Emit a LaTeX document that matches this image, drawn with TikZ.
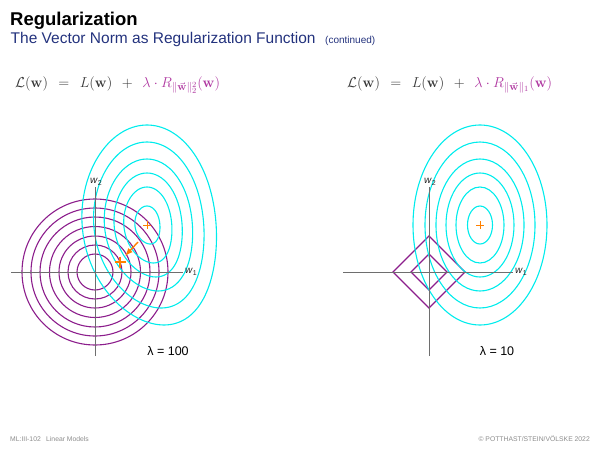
\documentclass[tikz,border=0pt]{standalone}
\usepackage[no-math]{fontspec}
\setmainfont{Liberation Sans}
\usetikzlibrary{arrows.meta}
\definecolor{cy}{RGB}{0,236,236}
\definecolor{pu}{RGB}{140,30,140}
\definecolor{orng}{RGB}{255,128,0}
\definecolor{navy}{RGB}{35,50,125}
\definecolor{fmag}{RGB}{175,55,160}
\definecolor{fgray}{RGB}{55,55,55}
\definecolor{axgray}{RGB}{110,110,110}
\begin{document}
\begin{tikzpicture}[x=1pt,y=-1pt,
  ax/.style={draw=axgray, line width=0.9pt},
  circ/.style={draw=pu, line width=1.1pt},
  ell/.style={draw=cy, line width=1.1pt},
  thinplus/.style={draw=orng, line width=0.8pt},
  boldplus/.style={draw=orng, line width=2pt},
  axlab/.style={inner sep=0pt, font=\fontsize{10}{12}\selectfont, text=black!85},
  lamlab/.style={inner sep=0pt, font=\fontsize{12.5}{14}\selectfont, text=black},
  formula/.style={inner sep=0pt, anchor=base west, font=\fontsize{15.8}{18}\selectfont, text=fgray},
  foot/.style={inner sep=0pt, anchor=base west, font=\fontsize{6.8}{8}\selectfont, text=black!45}]
\useasboundingbox (0,0) rectangle (600,450);

% header
\node[inner sep=0pt, anchor=base west, font=\fontsize{18.5}{20}\selectfont\bfseries] (title) at (10,25) {Regularization};
\node[inner sep=0pt, anchor=base west, font=\fontsize{15.5}{17}\selectfont, text=navy] (sub) at (10.5,43.5) {The Vector Norm as Regularization Function};
\node[inner sep=0pt, anchor=base west, font=\fontsize{10}{12}\selectfont, text=navy] (cont) at (325,43.5) {(continued)};

% formulas
\node[formula] (f1) at (15,87) {$\mathcal{L}(\mathbf{w})\;\,=\;\,L(\mathbf{w})\;\,+\;\,\textcolor{fmag}{\lambda\cdot R_{\|\vec{\mathbf{w}}\|_2^2}(\mathbf{w})}$};
\node[formula] (f2) at (347,87) {$\mathcal{L}(\mathbf{w})\;\,=\;\,L(\mathbf{w})\;\,+\;\,\textcolor{fmag}{\lambda\cdot R_{\|\vec{\mathbf{w}}\|_1}(\mathbf{w})}$};

% ---------- left panel ----------
\coordinate (o1) at (95,272);
\coordinate (m1) at (147,225);
\foreach \r in {18,27,36,45.5,55,64,73}
  \draw[circ] (o1) circle[radius=\r];
\foreach \a/\b in {67/100,55/83,44/66,34/52,24/38,12.5/19}
  \draw[ell] plot[smooth cycle, domain=0:355, samples=72, variable=\t]
    ({147+\a*cos(\t)+0.17*\b*((1+sin(\t))/2)^3},{225+\b*sin(\t)});
\coordinate (h1l) at (11,272);
\coordinate (h1r) at (183,272);
\coordinate (v1t) at (95,187);
\coordinate (v1b) at (95,356);
\draw[ax] (h1l) -- (h1r);
\draw[ax] (v1b) -- (v1t);
\node[axlab, anchor=west] (w1a) at (185,272) {\textit{w}\raisebox{-2.5pt}{\fontsize{7}{8}\selectfont 1}};
\node[axlab, anchor=south] (w2a) at (96,186) {\textit{w}\raisebox{-2.5pt}{\fontsize{7}{8}\selectfont 2}};
% orange markers
\draw[thinplus] (143,225) -- (151,225) (147,221) -- (147,229);
\coordinate (bp) at (120,262);
\draw[boldplus] (114.5,262) -- (125.5,262) (120,256.5) -- (120,267.5);
\coordinate (arS) at (138,242);
\coordinate (arE) at (125,256);
\draw[orng, line width=1.4pt, -{Latex[length=8pt,width=6pt]}] (arS) -- (arE);
\node[lamlab] (lam1) at (168,351) {λ = 100};

% ---------- right panel ----------
\coordinate (o2) at (429,272);
\coordinate (m2) at (480,225);
\draw[circ] (411,272) -- (429,254) -- (447,272) -- (429,290) -- cycle;
\draw[circ] (393,272) -- (429,236) -- (465,272) -- (429,308) -- cycle;
\foreach \a/\b in {67/100,55/83,44/66,34/52,24/38,12.5/19}
  \draw[ell] (m2) ellipse[x radius=\a, y radius=\b];
\coordinate (h2l) at (343,272);
\coordinate (h2r) at (513,272);
\coordinate (v2t) at (429,187);
\coordinate (v2b) at (429,356);
\draw[ax] (h2l) -- (h2r);
\draw[ax] (v2b) -- (v2t);
\node[axlab, anchor=west] (w1b) at (515,272) {\textit{w}\raisebox{-2.5pt}{\fontsize{7}{8}\selectfont 1}};
\node[axlab, anchor=south] (w2b) at (430,186) {\textit{w}\raisebox{-2.5pt}{\fontsize{7}{8}\selectfont 2}};
\draw[thinplus] (476,225) -- (484,225) (480,221) -- (480,229);
\node[lamlab] (lam2) at (497,351) {λ = 10};

% footer
\node[foot] (ft1) at (10,441) {ML:III-102};
\node[foot] (ft2) at (46,441) {Linear Models};
\node[foot, anchor=base east] (ft3) at (590,441) {© POTTHAST/STEIN/VÖLSKE 2022};
\end{tikzpicture}
\end{document}
